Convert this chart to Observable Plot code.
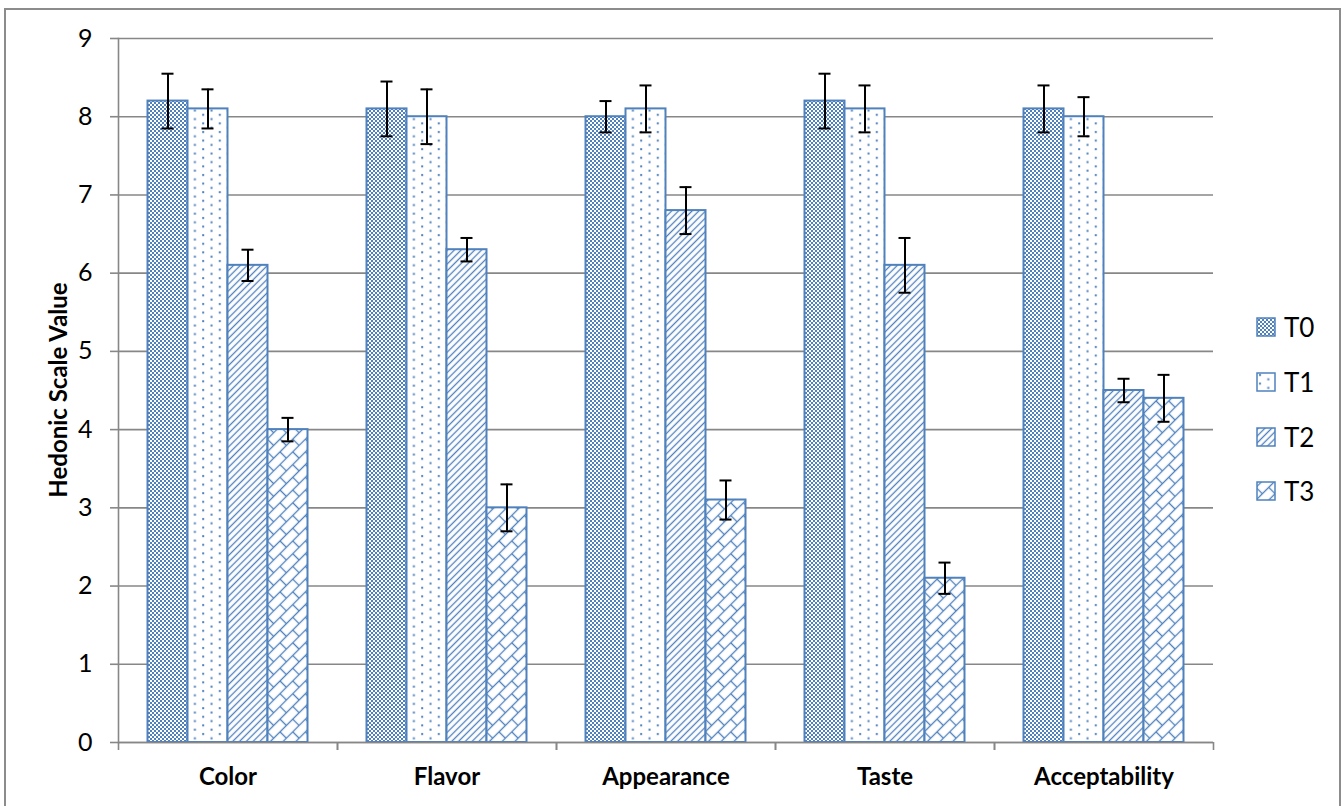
<!DOCTYPE html>
<html><head><meta charset="utf-8">
<script src="https://cdn.jsdelivr.net/npm/d3@7"></script>
<script src="https://cdn.jsdelivr.net/npm/@observablehq/plot@0.6"></script>
<style>
html,body{margin:0;padding:0;background:#fff;}
#wrap{position:relative;width:1344px;height:806px;overflow:hidden;font-family:Lato,"Open Sans",sans-serif;background:#fff;}
#border{position:absolute;left:4px;top:8px;width:1337px;height:830px;border:2px solid #8c8c8c;box-sizing:border-box;pointer-events:none;}
#ytitle{position:absolute;left:57px;top:390px;transform:translate(-50%,-50%) rotate(-90deg);font-weight:bold;font-size:24px;white-space:nowrap;color:#000;}
#legend{position:absolute;left:1256px;top:300px;}
.item{display:flex;align-items:center;height:54.7px;}
.item svg{display:block;margin-right:8px;}
.item span{font-size:26px;color:#000;line-height:1;}
#chart{position:absolute;left:0;top:0;}
</style>
</head><body>
<div id="wrap">
<svg width="0" height="0" style="position:absolute">
 <defs>
  <pattern id="pat0" width="4" height="4" patternUnits="userSpaceOnUse">
   <rect width="4" height="4" fill="#fff"/>
   <rect width="2" height="2" fill="#4f81bd"/>
   <rect x="2" y="2" width="2" height="2" fill="#4f81bd"/>
  </pattern>
  <pattern id="pat1" width="16.6" height="8.6" patternUnits="userSpaceOnUse">
   <rect width="16.6" height="8.6" fill="#fff"/>
   <rect x="3" y="2" width="2" height="2" fill="#4f81bd"/>
   <rect x="11.3" y="6.3" width="2" height="2" fill="#4f81bd"/>
  </pattern>
  <pattern id="pat2" width="4.8" height="4.8" patternUnits="userSpaceOnUse" patternTransform="rotate(45)">
   <rect width="4.8" height="4.8" fill="#fff"/>
   <line x1="2.4" y1="-1" x2="2.4" y2="5.8" stroke="#4f81bd" stroke-width="1.3"/>
  </pattern>
  <pattern id="pat3" width="18" height="18" patternUnits="userSpaceOnUse" patternTransform="rotate(45)">
   <rect width="18" height="18" fill="#fff"/>
   <line x1="4.5" y1="-1" x2="4.5" y2="19" stroke="#4f81bd" stroke-width="1.3"/>
   <line x1="13.5" y1="-1" x2="13.5" y2="19" stroke="#4f81bd" stroke-width="1.3"/>
   <line x1="4.5" y1="4.5" x2="13.5" y2="4.5" stroke="#4f81bd" stroke-width="1.3"/>
   <line x1="13.5" y1="13.5" x2="19" y2="13.5" stroke="#4f81bd" stroke-width="1.3"/>
   <line x1="-1" y1="13.5" x2="4.5" y2="13.5" stroke="#4f81bd" stroke-width="1.3"/>
  </pattern>
 </defs>
</svg>
<div id="chart"></div>
<div id="ytitle">Hedonic Scale Value</div>
<div id="legend"></div>
<div id="border"></div>
</div>
<script>
const categories = ["Color", "Flavor", "Appearance", "Taste", "Acceptability"];
const series = ["T0", "T1", "T2", "T3"];
const valuesT0 = [8.2, 8.1, 8.0, 8.2, 8.1];
const valuesT1 = [8.1, 8.0, 8.1, 8.1, 8.0];
const valuesT2 = [6.1, 6.3, 6.8, 6.1, 4.5];
const valuesT3 = [4.0, 3.0, 3.1, 2.1, 4.4];
const errT0 = [0.35, 0.35, 0.2, 0.35, 0.3];
const errT1 = [0.25, 0.35, 0.3, 0.3, 0.25];
const errT2 = [0.2, 0.15, 0.3, 0.35, 0.15];
const errT3 = [0.15, 0.3, 0.25, 0.2, 0.3];
const yTicks = [0, 1, 2, 3, 4, 5, 6, 7, 8, 9];

const allValues = [valuesT0, valuesT1, valuesT2, valuesT3];
const allErr = [errT0, errT1, errT2, errT3];
const patterns = series.map((s, i) => `url(#pat${i})`);

const data = [];
categories.forEach((c, ci) => {
  series.forEach((s, si) => {
    data.push({cat: c, series: s, value: allValues[si][ci], err: allErr[si][ci]});
  });
});

const gray = "#878787";
const chart = Plot.plot({
  width: 1344,
  height: 806,
  marginLeft: 118,
  marginRight: 131,
  marginTop: 38,
  marginBottom: 64,
  style: {fontFamily: "Lato, 'Open Sans', sans-serif", background: "transparent", color: "#000"},
  fx: {domain: categories, paddingInner: 0, paddingOuter: 0, label: null},
  x: {domain: series, paddingInner: 0, paddingOuter: 0.7375, axis: null, round: false},
  y: {domain: [0, 9], label: null},
  color: {type: "ordinal", domain: series, range: patterns},
  marks: [
    Plot.gridY(yTicks, {stroke: gray, strokeOpacity: 1, strokeWidth: 1.6}),
    Plot.barY(data, {fx: "cat", x: "series", y: "value", fill: "series", stroke: "#4f81bd", strokeWidth: 2}),
    Plot.ruleX(data, {fx: "cat", x: "series", y1: d => d.value - d.err, y2: d => d.value + d.err, stroke: "#000", strokeWidth: 2}),
    Plot.tickY(data, {fx: "cat", x: "series", y: d => d.value + d.err, insetLeft: 14, insetRight: 14, stroke: "#000", strokeWidth: 2}),
    Plot.tickY(data, {fx: "cat", x: "series", y: d => d.value - d.err, insetLeft: 14, insetRight: 14, stroke: "#000", strokeWidth: 2}),
    Plot.ruleY([0], {stroke: gray, strokeWidth: 1.6}),
    Plot.frame({anchor: "left", facetAnchor: "left", stroke: gray, strokeWidth: 1.6}),
    Plot.axisY(yTicks, {tickSize: 8, tickPadding: 18, fontSize: 25, tickFormat: d => String(d), stroke: gray, strokeWidth: 1.6, fill: "#000", label: null}),
    Plot.axisFx({anchor: "bottom", tickSize: 0, tickPadding: 25, fontSize: 24, fontWeight: "bold", fill: "#000", label: null}),
    Plot.axisFx({anchor: "bottom", tickSize: 8, tickFormat: () => "", dx: -109.5, stroke: gray, strokeWidth: 1.6, label: null}),
    Plot.axisFx({anchor: "bottom", tickSize: 8, tickFormat: () => "", dx: 109.5, stroke: gray, strokeWidth: 1.6, label: null})
  ]
});
document.getElementById("chart").appendChild(chart);

const legend = document.getElementById("legend");
series.forEach((s, i) => {
  const item = document.createElement("div");
  item.className = "item";
  item.innerHTML = `<svg width="20" height="20"><rect x="1" y="1" width="18" height="18" fill="${patterns[i]}" stroke="#4f81bd" stroke-width="1.5"/></svg><span>${s}</span>`;
  legend.appendChild(item);
});
</script>
</body></html>
